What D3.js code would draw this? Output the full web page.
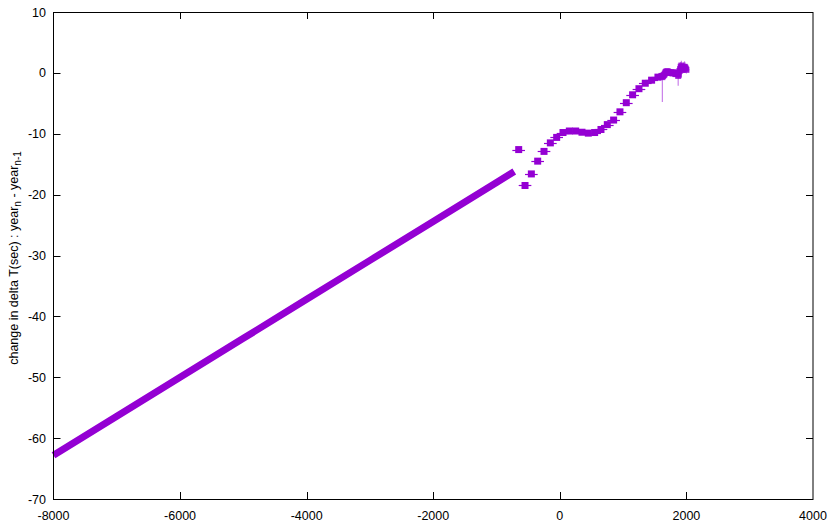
<!DOCTYPE html>
<html>
<head>
<meta charset="utf-8">
<script src="https://cdn.jsdelivr.net/npm/d3@7"></script>
<style>
  html, body { margin: 0; padding: 0; background: #fff; }
  svg { display: block; }
  text { font-family: "Liberation Sans", Arial, sans-serif; }
</style>
</head>
<body>
<svg id="chart" width="833" height="526"></svg>
<script>
// ---- data ----
// long-term trend segment (points read along the thick band)
const trendYears  = [-8000, -7000, -6000, -5000, -4000, -3000, -2000, -1000, -720];
const trendValues = [-62.8, -56.4, -50.0, -43.6, -37.2, -30.8, -24.4, -18.0, -16.2];

// century points with horizontal error bars
const centYears  = [-650, -550, -450, -350, -250, -150, -50, 50, 150, 250, 350, 450, 550, 650, 750, 850, 950, 1050, 1150, 1250, 1350, 1450, 1550];
const centValues = [-12.6, -18.5, -16.6, -14.5, -12.9, -11.5, -10.6, -9.8, -9.55, -9.55, -9.75, -9.9, -9.8, -9.3, -8.5, -7.75, -6.4, -4.9, -3.6, -2.6, -1.7, -1.2, -0.7];
const centXErr   = 100;

// recent dense points (1600-2000) with error bars
const recYears  = [1600, 1610, 1620, 1630, 1640, 1650, 1660, 1670, 1680, 1690, 1700, 1710, 1720, 1730, 1740, 1750, 1760, 1770, 1780, 1790, 1800, 1810, 1820, 1830, 1840, 1850, 1860, 1870, 1880, 1890, 1900, 1910, 1920, 1930, 1940, 1950, 1960, 1970, 1980, 1990, 2000];
const recValues = [-0.6, -0.5, -0.7, -0.5, -0.4, -0.3, -0.1, 0.1, 0.2, 0.2, 0.25, 0.2, 0.1, 0.1, 0.0, 0.0, 0.1, 0.0, -0.1, 0.0, 0.1, 0.0, -0.1, -0.2, -0.1, 0.0, -0.2, -0.5, -0.3, 0.3, 0.6, 1.0, 1.2, 0.8, 0.5, 0.6, 0.9, 1.0, 0.9, 0.7, 0.5];
const recErrLow  = [0.3, 0.3, 4.1, 0.3, 0.3, 0.3, 0.3, 0.3, 0.3, 0.3, 0.3, 0.3, 0.3, 0.3, 0.3, 0.3, 0.3, 0.3, 0.3, 0.3, 0.3, 0.3, 0.3, 0.3, 0.3, 0.3, 0.5, 1.6, 0.6, 0.6, 0.6, 0.8, 0.8, 0.6, 0.6, 0.6, 0.8, 0.8, 0.8, 0.6, 0.6];
const recErrHigh = [0.3, 0.3, 0.4, 0.3, 0.3, 0.3, 0.3, 0.3, 0.3, 0.3, 0.3, 0.3, 0.3, 0.3, 0.3, 0.3, 0.3, 0.3, 0.3, 0.3, 0.3, 0.3, 0.3, 0.3, 0.3, 0.3, 0.4, 0.4, 0.5, 0.6, 0.6, 0.8, 0.8, 0.6, 0.6, 0.6, 0.8, 0.9, 0.8, 0.6, 0.6];
const recXErr = 50;

const xTicks = [-8000, -6000, -4000, -2000, 0, 2000, 4000];
const yTicks = [-70, -60, -50, -40, -30, -20, -10, 0, 10];

// ---- drawing ----
const color = "#9400d3";
const svg = d3.select("#chart");
const pLeft = 53.5, pRight = 813, pTop = 12, pBottom = 499;
const x = d3.scaleLinear().domain([-8000, 4000]).range([pLeft, pRight]);
const y = d3.scaleLinear().domain([-70, 10]).range([pBottom, pTop]);
const tickLen = 7;

// trend band
const trend = trendYears.map((yr, i) => [yr, trendValues[i]]);
svg.append("path")
  .attr("d", d3.line().x(d => x(d[0])).y(d => y(d[1]))(trend))
  .attr("fill", "none").attr("stroke", color).attr("stroke-width", 7);

// century points
const cent = centYears.map((yr, i) => ({yr, v: centValues[i]}));
const gC = svg.append("g");
gC.selectAll("line").data(cent).join("line")
  .attr("x1", d => x(d.yr - centXErr)).attr("x2", d => x(d.yr + centXErr))
  .attr("y1", d => Math.round(y(d.v)) + 0.5).attr("y2", d => Math.round(y(d.v)) + 0.5)
  .attr("stroke", color).attr("stroke-width", 1.2);
gC.selectAll("rect").data(cent).join("rect")
  .attr("x", d => x(d.yr) - 3.5).attr("y", d => y(d.v) - 3.5)
  .attr("width", 7).attr("height", 7).attr("fill", color);

// recent points
const rec = recYears.map((yr, i) => ({yr, v: recValues[i], lo: recErrLow[i], hi: recErrHigh[i]}));
const gR = svg.append("g");
gR.selectAll("line.v").data(rec).join("line").attr("class", "v")
  .attr("x1", d => x(d.yr)).attr("x2", d => x(d.yr))
  .attr("y1", d => y(d.v - d.lo)).attr("y2", d => y(d.v + d.hi))
  .attr("stroke", color).attr("stroke-width", 1.2).attr("stroke-opacity", 0.5);
gR.selectAll("line.h").data(rec).join("line").attr("class", "h")
  .attr("x1", d => x(d.yr - recXErr)).attr("x2", d => x(d.yr + recXErr))
  .attr("y1", d => y(d.v)).attr("y2", d => y(d.v))
  .attr("stroke", color).attr("stroke-width", 1).attr("stroke-opacity", 0.6);
gR.selectAll("rect").data(rec).join("rect")
  .attr("x", d => x(d.yr) - 3).attr("y", d => y(d.v) - 3)
  .attr("width", 6).attr("height", 6).attr("fill", color).attr("fill-opacity", 0.85);

// frame
svg.append("rect")
  .attr("x", pLeft).attr("y", pTop + 0.5)
  .attr("width", pRight - pLeft).attr("height", pBottom - pTop)
  .attr("fill", "none").attr("stroke", "#000").attr("stroke-width", 1);

// ticks
const gT = svg.append("g").attr("stroke", "#000").attr("stroke-width", 1);
xTicks.slice(1, -1).forEach(t => {
  const px = Math.round(x(t)) + 0.5;
  gT.append("line").attr("x1", px).attr("x2", px).attr("y1", pBottom).attr("y2", pBottom - tickLen);
  gT.append("line").attr("x1", px).attr("x2", px).attr("y1", pTop).attr("y2", pTop + tickLen);
});
yTicks.slice(1, -1).forEach(t => {
  const py = Math.round(y(t)) + 0.5;
  gT.append("line").attr("x1", pLeft).attr("x2", pLeft + tickLen).attr("y1", py).attr("y2", py);
  gT.append("line").attr("x1", pRight).attr("x2", pRight - tickLen).attr("y1", py).attr("y2", py);
});

// tick labels
svg.append("g").selectAll("text").data(xTicks).join("text")
  .attr("x", d => x(d)).attr("y", 520)
  .attr("text-anchor", "middle").attr("font-size", 12.5).attr("fill", "#000")
  .text(d => d);
svg.append("g").selectAll("text").data(yTicks).join("text")
  .attr("x", 46).attr("y", d => y(d) + 4.5)
  .attr("text-anchor", "end").attr("font-size", 12.5).attr("fill", "#000")
  .text(d => d);

// y axis label
const yl = svg.append("text")
  .attr("transform", "translate(18,258) rotate(-90)")
  .attr("text-anchor", "middle").attr("font-size", 12.5).attr("fill", "#000");
yl.append("tspan").text("change in delta T(sec) : year");
yl.append("tspan").attr("baseline-shift", "-25%").attr("font-size", 10).text("n");
yl.append("tspan").text(" - year");
yl.append("tspan").attr("baseline-shift", "-25%").attr("font-size", 10).text("n-1");
</script>
</body>
</html>
